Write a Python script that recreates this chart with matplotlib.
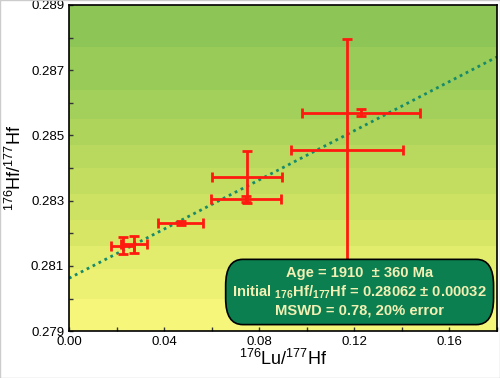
import numpy as np
import matplotlib.pyplot as plt
from matplotlib.patches import FancyBboxPatch
from matplotlib.colors import LinearSegmentedColormap

plt.rcParams['font.family'] = ['Liberation Sans', 'DejaVu Sans']
plt.rcParams['mathtext.fontset'] = 'custom'
plt.rcParams['mathtext.rm'] = 'Liberation Sans'
plt.rcParams['mathtext.bf'] = 'Liberation Sans:bold'

# data
lu_hf = [0.0225, 0.0272, 0.0470, 0.0744, 0.0748, 0.1168, 0.1227]
lu_err = [0.0050, 0.0055, 0.0095, 0.0147, 0.0148, 0.0235, 0.0248]
hf_hf = [0.28162, 0.28166, 0.28231, 0.28305, 0.28372, 0.28455, 0.28569]
hf_err = [0.00026, 0.00025, 0.00006, 0.00010, 0.00080, 0.00340, 0.00011]

intercept = 0.28062
slope = 0.0377

xlim = (0.0, 0.18)
ylim = (0.279, 0.289)

fig = plt.figure(figsize=(5, 3.78), dpi=100)
ax = fig.add_axes([0.138, 0.124, 0.856, 0.863])

# stepped yellow->green background
cmap = LinearSegmentedColormap.from_list('yg', ['#f6f77a', '#d4e464', '#b2d65c', '#8dc657'])
edges = [0.279, 0.2800, 0.2809, 0.2816, 0.2824, 0.2832, 0.2840, 0.2847, 0.2855, 0.2864, 0.2877, 0.289]
for i in range(len(edges) - 1):
    ax.axhspan(edges[i], edges[i + 1], color=cmap(i / (len(edges) - 2)), lw=0, zorder=0)

xx = np.array(xlim)
ax.plot(xx, intercept + slope * xx, color='#168a6a', lw=2, ls=(0, (1, 1.4)), zorder=2)

ax.errorbar(lu_hf, hf_hf, xerr=lu_err, yerr=hf_err, fmt='none', ecolor='#ff1a10',
            elinewidth=2, capsize=3.5, capthick=2, zorder=3)

ax.set_xlim(xlim)
ax.set_ylim(ylim)
ax.set_xticks(np.arange(0, 0.17, 0.04))
ax.set_xticks(np.arange(0, 0.181, 0.02), minor=True)
ax.set_yticks(np.arange(0.279, 0.2891, 0.002))
ax.set_yticks(np.arange(0.279, 0.2891, 0.001), minor=True)
ax.xaxis.set_major_formatter(lambda v, p: '{:.2f}'.format(v))
ax.yaxis.set_major_formatter(lambda v, p: '{:.3f}'.format(v))
ax.tick_params(which='both', direction='in', length=3, width=1, labelsize=9.5, colors='#333333',
               labelcolor='black')
ax.tick_params(which='both', top=False, right=False)
for s in ax.spines.values():
    s.set_linewidth(1.2)

ax.set_xlabel(r'$^{176}$Lu/$^{177}$Hf', fontsize=13, labelpad=1)
ax.set_ylabel(r'$^{176}$Hf/$^{177}$Hf', fontsize=13, labelpad=4)

# result box
box = FancyBboxPatch((0.366, 0.02), 0.626, 0.20, boxstyle='round,pad=0,rounding_size=0.04',
                     transform=ax.transAxes, facecolor='#0b7f4f', edgecolor='black', lw=1.2,
                     zorder=5, mutation_aspect=2.0)
ax.add_patch(box)
lines = ['Age = 1910  \u00b1 360 Ma',
         r'Initial $_{\mathbf{176}}$Hf/$_{\mathbf{177}}$Hf = 0.28062 $\mathbf{\pm}$ 0.00032',
         'MSWD = 0.78, 20% error']
for i, t in enumerate(lines):
    ax.text(0.679, 0.178 - i * 0.058, t, transform=ax.transAxes, ha='center', va='center',
            fontsize=10.6, fontweight='bold', color='#f2f0b4', zorder=6)

fig.patches.append(plt.Rectangle((0, 0), 1, 1, transform=fig.transFigure, fill=False,
                                 edgecolor='#cccccc', lw=1))
fig.savefig('out.png', dpi=100)
